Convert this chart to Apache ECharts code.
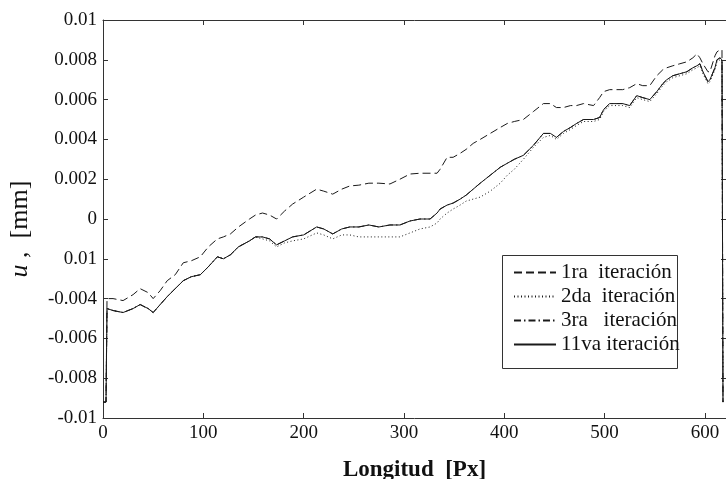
<!DOCTYPE html>
<html>
<head>
<meta charset="utf-8">
<script src="https://cdn.jsdelivr.net/npm/echarts@6/dist/echarts.min.js"></script>
<style>html,body{margin:0;padding:0;background:#fff}#c{width:726px;height:479px}</style>
</head>
<body>
<div id="c"></div>
<script>
// ---- data ----
const xs = [0,3,4,10,20,30,37,45,50,57,64,72,80,88,97,105,114,120,127,135,146,152,159,166,173,181,189,200,213,220,229,238,246,255,265,275,286,296,306,316,326,333,336,343,349,356,362,369,376,386,396,403,410,419,429,439,446,452,459,466,472,479,489,495,499,505,512,518,525,532,538,545,552,558,562,568,575,582,588,592,595,598,603,605,610,612,615,617,618];

const it1 = [-0.0092,-0.0092,-0.0040,-0.0040,-0.0041,-0.0038,-0.0035,-0.0037,-0.0040,-0.0036,-0.0031,-0.0028,-0.0022,-0.0021,-0.0019,-0.0014,-0.0010,-0.0009,-0.00075,-0.0004,0.0000,0.0002,0.0003,0.0002,0.0000,0.0004,0.00075,0.0011,0.0015,0.0014,0.00125,0.0015,0.00166,0.0017,0.0018,0.0018,0.00176,0.0020,0.00226,0.0023,0.0023,0.0023,0.0025,0.0031,0.0031,0.0033,0.0035,0.0038,0.0040,0.0043,0.0046,0.0048,0.0049,0.0050,0.0054,0.0058,0.0058,0.0056,0.0056,0.0057,0.0057,0.0058,0.0057,0.0061,0.0064,0.0065,0.0065,0.0065,0.0066,0.0068,0.0067,0.0067,0.0072,0.0075,0.0076,0.0077,0.0078,0.0079,0.0081,0.0083,0.0081,0.0078,0.0074,0.0074,0.0082,0.0084,0.0085,0.0085,-0.0092];

const it2 = [-0.0092,-0.0092,-0.0045,-0.0046,-0.0047,-0.0045,-0.0043,-0.0045,-0.0047,-0.0043,-0.0039,-0.0035,-0.0031,-0.0029,-0.0028,-0.0024,-0.0019,-0.0020,-0.0018,-0.0014,-0.0011,-0.0009,-0.0010,-0.0011,-0.0014,-0.0012,-0.0011,-0.0010,-0.0007,-0.0008,-0.0010,-0.0008,-0.0008,-0.0009,-0.0009,-0.0009,-0.0009,-0.0009,-0.0007,-0.0005,-0.0004,-0.0002,0.0000,0.0003,0.0005,0.0007,0.0009,0.0010,0.0011,0.0014,0.0018,0.0022,0.0025,0.0030,0.0036,0.0041,0.0042,0.0040,0.0043,0.0045,0.0047,0.0049,0.0049,0.0050,0.0054,0.0057,0.0057,0.0057,0.0056,0.0061,0.0060,0.0059,0.0063,0.0067,0.0069,0.0071,0.0072,0.0073,0.0075,0.0076,0.0077,0.0073,0.0068,0.0069,0.0075,0.0079,0.0080,0.0079,-0.0092];

const it3 = [-0.0092,-0.0092,-0.0045,-0.0046,-0.0047,-0.0045,-0.0043,-0.0045,-0.0047,-0.0043,-0.0039,-0.0035,-0.0031,-0.0029,-0.0028,-0.0024,-0.0019,-0.0020,-0.0018,-0.0014,-0.0011,-0.0009,-0.0009,-0.0010,-0.0013,-0.0011,-0.0009,-0.0008,-0.0004,-0.0005,-0.00075,-0.0005,-0.0004,-0.0004,-0.0003,-0.0004,-0.0003,-0.0003,-0.0001,0.0000,0.0000,0.0003,0.0005,0.0007,0.0008,0.0010,0.0012,0.0015,0.0018,0.0022,0.0026,0.0028,0.0030,0.0032,0.0037,0.0043,0.0043,0.0041,0.0044,0.0046,0.0048,0.0050,0.0050,0.0051,0.0055,0.0058,0.0058,0.0058,0.0057,0.0062,0.0061,0.0060,0.0064,0.0068,0.0070,0.0072,0.0073,0.0074,0.0076,0.0077,0.0078,0.0074,0.0069,0.0070,0.0076,0.0080,0.0081,0.0080,-0.0092];

const it11 = [-0.0092,-0.0092,-0.0045,-0.0046,-0.0047,-0.0045,-0.0043,-0.0045,-0.0047,-0.0043,-0.0039,-0.0035,-0.0031,-0.0029,-0.0028,-0.0024,-0.0019,-0.0020,-0.0018,-0.0014,-0.0011,-0.0009,-0.0009,-0.0010,-0.0013,-0.0011,-0.0009,-0.0008,-0.0004,-0.0005,-0.00075,-0.0005,-0.0004,-0.0004,-0.0003,-0.0004,-0.0003,-0.0003,-0.0001,0.0000,0.0000,0.0003,0.0005,0.0007,0.0008,0.0010,0.0012,0.0015,0.0018,0.0022,0.0026,0.0028,0.0030,0.0032,0.0037,0.0043,0.0043,0.0041,0.0044,0.0046,0.0048,0.0050,0.0050,0.0051,0.0055,0.0058,0.0058,0.0058,0.0057,0.0062,0.0061,0.0060,0.0064,0.0068,0.0070,0.0072,0.0073,0.0074,0.0076,0.0077,0.0078,0.0074,0.0069,0.0070,0.0076,0.0080,0.0081,0.0080,-0.0092];

const seriesNames = ['1ra  iteración','2da  iteración','3ra   iteración','11va iteración'];
const yTickLabels = ['-0.01','-0.008','-0.006','-0.004','0.01','0','0.002','0.004','0.006','0.008','0.01'];
const xTickLabels = ['0','100','200','300','400','500','600'];

// ---- chart ----
const FONT = "'Liberation Serif','Times New Roman',serif";
const chart = echarts.init(document.getElementById('c'), null, {renderer:'canvas'});
const pairs = ys => xs.map((x,i)=>[x, ys[i]]);
const lineCol = '#1a1a1a';
const styles = [
  {type:[8,4]},
  {type:[1,2.5]},
  {type:[7,3,1.5,3]},
  {type:'solid'}
];
const dataSets = [it1, it2, it3, it11];

const axisCommon = {
  axisLine:{show:true, onZero:false, lineStyle:{color:'#333', width:1}},
  axisTick:{show:true, inside:true, length:5, lineStyle:{color:'#333', width:1}},
  splitLine:{show:false}
};

chart.setOption({
  animation:false,
  backgroundColor:'#fff',
  grid:{left:103, top:20, right:0, bottom:61, containLabel:false, outerBoundsMode:'none'},
  legend:{
    orient:'vertical', left:513, top:262, padding:0,
    itemWidth:42, itemHeight:14, itemGap:3,
    data:seriesNames,
    itemStyle:{opacity:0},
    textStyle:{fontFamily:FONT, fontSize:21, lineHeight:21, color:'#111'},
    selectedMode:false
  },
  xAxis:[
    Object.assign({}, axisCommon, {
      type:'value', min:0, max:621, interval:100, position:'bottom',
      axisLabel:{show:true, margin:6, fontFamily:FONT, fontSize:19, color:'#111',
        formatter:v => (v % 100 === 0 ? xTickLabels[v/100] : '')},
      name:'Longitud  [Px]', nameLocation:'middle', nameGap:41,
      nameTextStyle:{fontFamily:FONT, fontSize:23, fontWeight:'bold', color:'#111'}
    }),
    Object.assign({}, axisCommon, {
      type:'value', min:0, max:621, interval:100, position:'top',
      axisLabel:{show:false}
    })
  ],
  yAxis:[
    Object.assign({}, axisCommon, {
      type:'value', min:-0.01, max:0.01, interval:0.002, position:'left',
      axisLabel:{show:true, margin:6, fontFamily:FONT, fontSize:19, color:'#111',
        formatter:v => yTickLabels[Math.round((v+0.01)/0.002)]},
      name:'{i|u} ,  [mm]', nameLocation:'middle', nameGap:70, nameRotate:90,
      nameTextStyle:{fontFamily:FONT, fontSize:26, color:'#111', padding:[0,20,0,0],
        rich:{i:{fontFamily:FONT, fontSize:26, fontStyle:'italic', color:'#111'}}}
    }),
    Object.assign({}, axisCommon, {
      type:'value', min:-0.01, max:0.01, interval:0.002, position:'right',
      axisLabel:{show:false}
    })
  ],
  graphic:[{
    type:'rect', left:502, top:255, shape:{width:175, height:113},
    style:{fill:'rgba(0,0,0,0)', stroke:'#333', lineWidth:1}, silent:true
  }],
  series: dataSets.map((d,i)=>({
    name:seriesNames[i], type:'line', data:pairs(d),
    showSymbol:false, symbol:'none',
    lineStyle:Object.assign({color:lineCol, width:1}, styles[i]),
    itemStyle:{color:lineCol},
    z: 10 - i
  }))
});
</script>
</body>
</html>
